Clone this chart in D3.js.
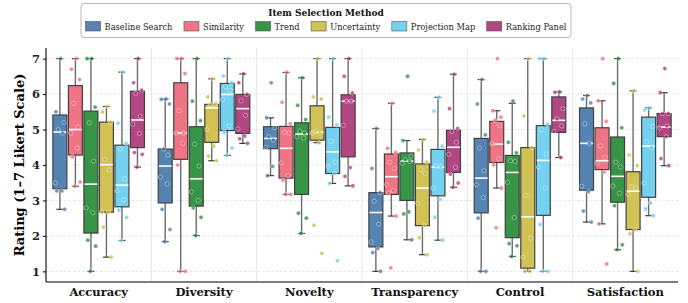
<!DOCTYPE html>
<html lang="en">
<head>
<meta charset="utf-8">
<title>Rating by Item Selection Method</title>
<script src="https://cdn.jsdelivr.net/npm/d3@7"></script>
<style>
	body { margin: 0; background: #fff; }
	svg { display: block; font-family: "DejaVu Serif", serif; }
</style>
</head>
<body>
<script>
// categories and methods
var categories = ["Accuracy", "Diversity", "Novelty", "Transparency", "Control", "Satisfaction"];
var methods = ["Baseline Search", "Similarity", "Trend", "Uncertainty", "Projection Map", "Ranking Panel"];
var colors = ["#4477AA", "#EE6677", "#228833", "#CCBB44", "#66CCEE", "#AA3377"];
var yTicks = [1, 2, 3, 4, 5, 6, 7];

// box stats, one row per category, one value per method
var whiskerLow = [
	[2.75, 3.40, 1.00, 1.40, 1.87, 3.94],
	[1.84, 1.00, 2.01, 4.12, 4.27, 4.61],
	[3.70, 3.17, 2.07, 4.63, 3.48, 3.41],
	[1.00, 2.56, 1.89, 1.47, 1.88, 3.37],
	[1.00, 3.35, 1.42, 1.00, 1.00, 4.21],
	[2.39, 2.34, 1.61, 1.00, 2.57, 3.98]
];
var q1 = [
	[3.33, 4.28, 2.08, 2.67, 2.82, 4.49],
	[2.93, 4.16, 2.84, 4.64, 4.97, 4.89],
	[4.46, 3.63, 3.17, 4.70, 3.76, 4.23],
	[1.69, 3.17, 3.00, 2.29, 3.13, 3.79],
	[2.65, 4.07, 1.95, 1.09, 2.58, 4.92],
	[3.29, 3.87, 2.95, 2.18, 3.09, 4.80]
];
var median = [
	[4.93, 5.00, 3.46, 4.01, 3.43, 5.27],
	[3.97, 4.90, 3.61, 5.61, 5.99, 5.59],
	[4.75, 4.47, 4.87, 4.92, 4.37, 5.80],
	[2.66, 3.67, 4.11, 3.35, 3.94, 4.50],
	[3.63, 4.59, 3.79, 2.54, 4.13, 5.26],
	[4.61, 4.12, 3.68, 3.26, 4.53, 5.07]
];
var q3 = [
	[5.41, 6.24, 5.52, 5.21, 4.56, 6.08],
	[4.45, 6.32, 5.08, 5.71, 6.30, 5.99],
	[5.08, 5.09, 5.19, 5.67, 5.06, 5.98],
	[3.22, 4.31, 4.34, 4.03, 4.44, 4.98],
	[4.75, 5.23, 4.27, 4.49, 5.11, 5.92],
	[5.61, 5.05, 4.79, 3.81, 5.35, 5.45]
];
var whiskerHigh = [
	[7.00, 7.00, 7.00, 5.65, 6.62, 7.00],
	[5.86, 7.00, 7.00, 6.43, 7.00, 6.57],
	[5.33, 6.61, 6.46, 7.00, 7.00, 7.00],
	[5.03, 5.74, 4.69, 4.72, 5.91, 6.56],
	[6.41, 5.53, 5.74, 7.00, 7.00, 6.06],
	[5.96, 5.81, 7.00, 6.09, 5.61, 6.04]
];

// individual ratings (strip points)
var ratings = [
	[ // Accuracy
		[7.0, 5.5, 5.2, 5.0, 4.9, 3.5, 3.27, 3.27, 2.75],
		[7.0, 6.7, 6.41, 5.74, 5.07, 4.9, 4.48, 4.23, 3.52, 3.4],
		[7.0, 7.0, 5.63, 5.19, 4.11, 2.79, 2.65, 1.88, 1.71, 1.0],
		[5.65, 5.49, 5.2, 4.16, 3.86, 2.67, 2.67, 2.25, 1.4],
		[6.62, 5.18, 4.61, 4.46, 3.61, 3.27, 3.02, 2.73, 2.52, 1.87],
		[7.0, 6.32, 6.11, 6.02, 5.37, 5.15, 4.89, 4.35, 4.3, 3.94]
	],
	[ // Diversity
		[5.86, 5.85, 5.72, 4.45, 4.28, 3.66, 3.47, 2.75, 2.18, 1.84],
		[7.0, 7.0, 6.58, 5.53, 4.9, 4.9, 4.61, 4.0, 1.0, 1.0],
		[7.0, 5.8, 5.25, 4.59, 3.97, 3.24, 3.0, 2.79, 2.52, 2.01],
		[6.43, 5.92, 5.73, 5.7, 5.7, 5.0, 4.53, 4.25, 4.12],
		[7.0, 6.51, 6.32, 6.21, 6.11, 5.85, 5.1, 4.92, 4.48, 4.27],
		[6.57, 6.32, 5.99, 5.81, 5.4, 5.02, 4.82, 4.74, 4.61]
	],
	[ // Novelty
		[6.32, 5.33, 5.05, 4.8, 4.7, 4.5, 3.96, 3.7],
		[6.61, 5.77, 5.16, 4.92, 4.9, 4.06, 3.7, 3.57, 3.17, 3.17],
		[6.46, 5.68, 5.28, 4.95, 4.9, 4.8, 4.76, 2.64, 2.5, 2.07],
		[7.0, 5.92, 5.86, 4.95, 4.9, 4.9, 4.63, 2.3, 1.51],
		[7.0, 5.35, 5.13, 4.67, 4.08, 3.97, 3.76, 3.48, 1.3],
		[7.0, 6.5, 6.03, 5.8, 5.8, 5.12, 3.93, 3.68, 3.41]
	],
	[ // Transparency
		[5.03, 3.9, 3.22, 2.98, 2.33, 1.83, 1.64, 1.53, 1.0],
		[5.74, 4.47, 4.35, 4.08, 3.9, 3.45, 3.28, 3.2, 2.56, 1.1],
		[6.5, 4.69, 4.25, 4.15, 4.1, 4.05, 2.68, 2.62, 1.89],
		[4.72, 4.42, 4.08, 3.87, 3.76, 2.92, 2.29, 1.95, 1.47],
		[5.91, 5.52, 4.53, 3.97, 3.95, 3.35, 3.03, 2.52, 1.88],
		[6.56, 5.59, 5.03, 4.95, 4.64, 4.3, 3.94, 3.74, 3.49, 3.37]
	],
	[ // Control
		[6.41, 5.72, 4.85, 4.48, 3.84, 3.44, 3.08, 2.5, 1.0, 1.0],
		[7.0, 5.53, 5.35, 5.26, 5.11, 4.6, 4.18, 4.0, 3.35, 2.23],
		[5.8, 4.64, 4.34, 4.12, 4.1, 3.51, 2.52, 1.78, 1.72, 1.42],
		[7.0, 5.38, 4.49, 3.14, 1.94, 1.4, 1.0, 1.0],
		[7.0, 7.0, 5.15, 5.0, 4.31, 3.94, 3.35, 2.32, 1.0, 1.0],
		[6.06, 6.05, 5.59, 5.3, 5.1, 4.95, 4.21]
	],
	[ // Satisfaction
		[5.96, 5.86, 5.75, 5.16, 4.61, 3.4, 3.25, 2.7, 2.39],
		[7.0, 5.81, 5.23, 4.54, 4.21, 4.05, 3.8, 2.34, 1.21],
		[7.0, 6.3, 5.05, 4.08, 3.94, 3.41, 3.2, 2.85, 1.75, 1.61],
		[6.09, 4.28, 3.98, 3.39, 3.35, 3.17, 2.18, 2.06, 1.0],
		[5.61, 5.55, 5.09, 4.65, 4.5, 3.49, 2.93, 2.76, 2.57],
		[6.72, 6.04, 5.45, 5.45, 5.1, 5.05, 4.8, 4.18, 3.98]
	]
];

// fixed horizontal spread for the strip points (fraction of box width)
var jitter = [0.05, -0.28, 0.3, -0.12, 0.2, -0.34, 0.14, -0.22, 0.34, -0.04];

var w = 688, h = 303;
var margin = { top: 48, right: 10, bottom: 21, left: 46 };

var svg = d3.select("body").append("svg")
	.attr("width", w)
	.attr("height", h);

var x = d3.scaleBand()
	.domain(categories)
	.range([margin.left, w - margin.right]);

var gap = x.bandwidth() * 0.058;
var xSub = d3.scaleBand()
	.domain(methods)
	.range([gap, x.bandwidth() - gap]);
var boxW = xSub.bandwidth() * 0.9;

var y = d3.scaleLinear()
	.domain([0.7, 7.3])
	.range([h - margin.bottom, margin.top]);

// horizontal dashed grid
svg.append("g")
	.selectAll("line")
	.data(yTicks)
	.enter()
	.append("line")
	.attr("x1", margin.left)
	.attr("x2", w - margin.right)
	.attr("y1", function(d) { return y(d); })
	.attr("y2", function(d) { return y(d); })
	.style("stroke", "#d9d9d9")
	.style("stroke-width", 0.7)
	.style("stroke-dasharray", "2.5,2");

// vertical separators between categories
svg.append("g")
	.selectAll("line")
	.data(categories.slice(1))
	.enter()
	.append("line")
	.attr("x1", function(d) { return x(d); })
	.attr("x2", function(d) { return x(d); })
	.attr("y1", margin.top)
	.attr("y2", h - margin.bottom)
	.style("stroke", "#e6e6e6")
	.style("stroke-width", 1);

// build flat list of boxes
var boxes = [];
categories.forEach(function(c, i) {
	methods.forEach(function(m, j) {
		boxes.push({
			cat: c, method: m, color: colors[j],
			lo: whiskerLow[i][j], q1: q1[i][j], med: median[i][j],
			q3: q3[i][j], hi: whiskerHigh[i][j], pts: ratings[i][j]
		});
	});
});

var cx = function(d) { return x(d.cat) + xSub(d.method) + xSub.bandwidth() / 2; };

var g = svg.append("g")
	.selectAll("g")
	.data(boxes)
	.enter()
	.append("g");

// whiskers
g.append("line")
	.attr("x1", cx).attr("x2", cx)
	.attr("y1", function(d) { return y(d.hi); })
	.attr("y2", function(d) { return y(d.q3); })
	.style("stroke", "#6b6b6b").style("stroke-width", 1.4);
g.append("line")
	.attr("x1", cx).attr("x2", cx)
	.attr("y1", function(d) { return y(d.q1); })
	.attr("y2", function(d) { return y(d.lo); })
	.style("stroke", "#6b6b6b").style("stroke-width", 1.4);

// caps
["hi", "lo"].forEach(function(k) {
	g.append("line")
		.attr("x1", function(d) { return cx(d) - boxW * 0.25; })
		.attr("x2", function(d) { return cx(d) + boxW * 0.25; })
		.attr("y1", function(d) { return y(d[k]); })
		.attr("y2", function(d) { return y(d[k]); })
		.style("stroke", "#3d3d3d").style("stroke-width", 1.2);
});

// boxes
g.append("rect")
	.attr("x", function(d) { return cx(d) - boxW / 2; })
	.attr("width", boxW)
	.attr("y", function(d) { return y(d.q3); })
	.attr("height", function(d) { return y(d.q1) - y(d.q3); })
	.style("fill", function(d) { return d.color; })
	.style("fill-opacity", 0.9)
	.style("stroke", "#404040")
	.style("stroke-width", 1.2);

// median
g.append("line")
	.attr("x1", function(d) { return cx(d) - boxW / 2 + 0.6; })
	.attr("x2", function(d) { return cx(d) + boxW / 2 - 0.6; })
	.attr("y1", function(d) { return y(d.med); })
	.attr("y2", function(d) { return y(d.med); })
	.style("stroke", "#fff").style("stroke-width", 1.6);

// strip points
g.selectAll("circle")
	.data(function(d) {
		return d.pts.map(function(v, k) { return { v: v, x: cx(d) + jitter[k % jitter.length] * boxW, color: d.color }; });
	})
	.enter()
	.append("circle")
	.attr("cx", function(p) { return p.x; })
	.attr("cy", function(p) { return y(p.v); })
	.attr("r", 2.1)
	.style("fill", function(p) { return p.color; })
	.style("fill-opacity", 0.75)
	.style("stroke", "#fff")
	.style("stroke-opacity", 0.8)
	.style("stroke-width", 0.5);

// axes
var yAxis = svg.append("g")
	.attr("transform", "translate(" + margin.left + ",0)")
	.call(d3.axisLeft(y).tickValues(yTicks).tickFormat(d3.format("d")).tickSize(3).tickPadding(3));
yAxis.select(".domain").attr("d", "M0," + margin.top + "V" + (h - margin.bottom)).style("stroke", "#000").style("stroke-width", 1.1);
yAxis.selectAll("text").style("font-family", "DejaVu Serif").style("font-weight", "bold").style("font-size", "11.5px").style("fill", "#222");

var xAxis = svg.append("g")
	.attr("transform", "translate(0," + (h - margin.bottom) + ")")
	.call(d3.axisBottom(x).tickSize(0).tickPadding(6));
xAxis.select(".domain").attr("d", "M" + margin.left + ",0H" + (w - margin.right)).style("stroke", "#000").style("stroke-width", 1.1);
xAxis.selectAll("text").style("font-family", "DejaVu Serif").style("font-weight", "bold").style("font-size", "11.5px").style("fill", "#111");

svg.append("text")
	.attr("transform", "translate(23.5," + ((margin.top + h - margin.bottom) / 2) + ") rotate(-90)")
	.attr("text-anchor", "middle")
	.style("font-weight", "bold")
	.style("font-size", "13px")
	.text("Rating (1\u20137 Likert Scale)");

// legend
var legend = svg.append("g");
var frame = legend.append("rect")
	.attr("y", 3.5).attr("height", 34).attr("rx", 3)
	.style("fill", "#fff").style("stroke", "#b5b5b5").style("stroke-width", 1);
var lx = 0;
var items = legend.append("g");
methods.forEach(function(m, j) {
	items.append("rect")
		.attr("x", lx).attr("y", 21.5).attr("width", 15).attr("height", 9.5)
		.style("fill", colors[j]).style("fill-opacity", 0.9)
		.style("stroke", "#555").style("stroke-width", 0.6);
	var t = items.append("text")
		.attr("x", lx + 19).attr("y", 30)
		.style("font-size", "8.3px").style("fill", "#222")
		.text(m);
	lx += 19 + t.node().getComputedTextLength() + 11.5;
});
var itemsW = lx - 11.5;
var legendCx = 326;
items.attr("transform", "translate(" + (legendCx - itemsW / 2) + ",0)");
frame.attr("x", legendCx - itemsW / 2 - 4.5).attr("width", itemsW + 9);
legend.append("text")
	.attr("x", legendCx).attr("y", 16)
	.attr("text-anchor", "middle")
	.style("font-weight", "bold").style("font-size", "9px").style("fill", "#111")
	.text("Item Selection Method");
</script>
</body>
</html>
